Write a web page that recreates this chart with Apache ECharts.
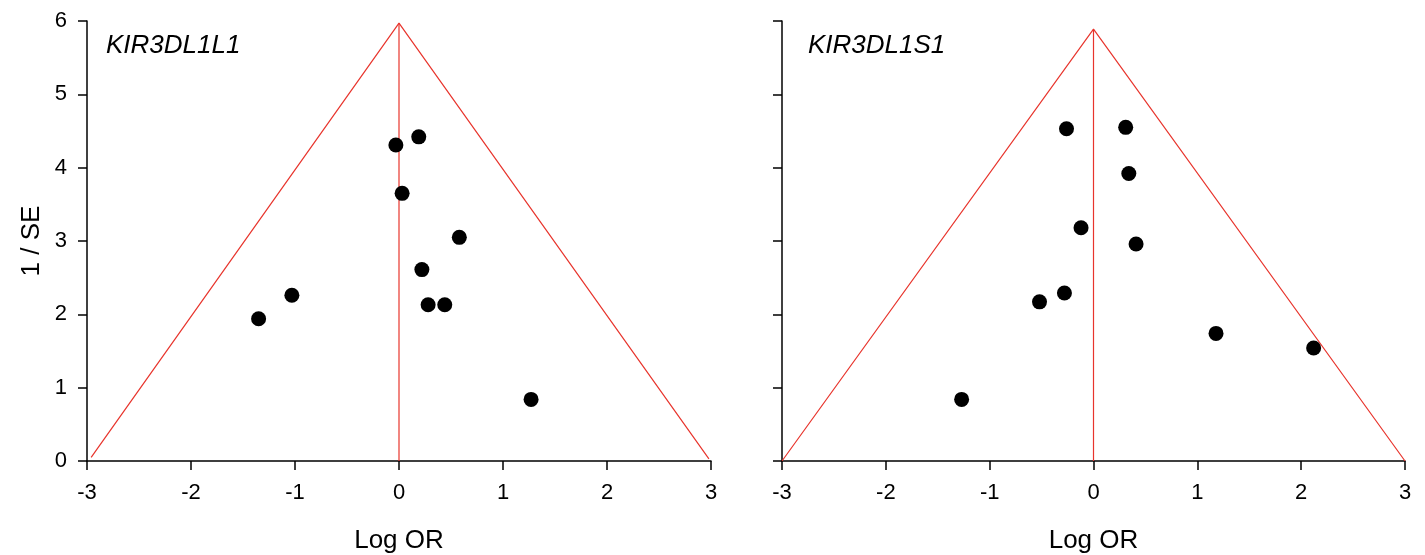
<!DOCTYPE html>
<html lang="en">
<head>
<meta charset="UTF-8">
<title>Funnel plots</title>
<script src="https://cdn.jsdelivr.net/npm/echarts@6/dist/echarts.min.js"></script>
<style>
  html, body { margin: 0; padding: 0; background: #fff; }
</style>
</head>
<body>
<div id="container" style="width:1425px;height:555px;"></div>
<script type="text/javascript">
// panel titles
var panelTitles = ['KIR3DL1L1', 'KIR3DL1S1'];

// left panel: log OR and 1/SE of each study
var leftLogOR = [-0.03, 0.19, 0.03, 0.58, 0.22, 0.28, 0.44, -1.03, -1.35, 1.27];
var leftInvSE = [4.31, 4.42, 3.65, 3.05, 2.61, 2.13, 2.13, 2.26, 1.94, 0.84];

// right panel
var rightLogOR = [-0.26, 0.31, 0.34, -0.12, 0.41, -0.28, -0.52, 1.18, 2.12, -1.27];
var rightInvSE = [4.53, 4.55, 3.92, 3.18, 2.96, 2.29, 2.17, 1.74, 1.54, 0.84];

// funnel outline (red) and centre line
var leftFunnel = [[-2.96, 0.05], [0, 5.97], [2.98, 0.03]];
var leftCentre = [[0, 0], [0, 5.97]];
var rightFunnel = [[-3, 0], [0, 5.89], [3, 0]];
var rightCentre = [[0, 0], [0, 5.89]];

// axis range
var xMin = -3, xMax = 3, xStep = 1;
var yMin = 0, yMax = 6, yStep = 1;

var font = 'Liberation Sans, Arial, sans-serif';
var red = '#e8342c';

function pairs(xs, ys) {
  var out = [];
  for (var i = 0; i < xs.length; i++) out.push([xs[i], ys[i]]);
  return out;
}

function xAxisFor(idx) {
  return {
    type: 'value', gridIndex: idx, min: xMin, max: xMax, interval: xStep,
    name: 'Log OR', nameLocation: 'middle', nameGap: 67,
    nameTextStyle: { fontFamily: font, fontSize: 26, color: '#000' },
    axisLine: { onZero: false, lineStyle: { color: '#000', width: 1.5 } },
    axisTick: { show: true, length: 9, lineStyle: { color: '#000', width: 1.5 } },
    axisLabel: { fontFamily: font, fontSize: 22, color: '#000', margin: 21 },
    splitLine: { show: false }
  };
}

function yAxisFor(idx, labels) {
  return {
    type: 'value', gridIndex: idx, min: yMin, max: yMax, interval: yStep,
    name: labels ? '1 / SE' : '', nameLocation: 'middle', nameGap: 42,
    nameTextStyle: { fontFamily: font, fontSize: 26, color: '#000' },
    axisLine: { show: true, onZero: false, lineStyle: { color: '#000', width: 1.5 } },
    axisTick: { show: true, length: 9, lineStyle: { color: '#000', width: 1.5 } },
    axisLabel: { show: labels, fontFamily: font, fontSize: 22, color: '#000', margin: 20 },
    splitLine: { show: false }
  };
}

function lineSeries(idx, data) {
  return {
    type: 'line', xAxisIndex: idx, yAxisIndex: idx, data: data,
    symbol: 'none', silent: true, clip: false, z: 2,
    lineStyle: { color: red, width: 1.2 }
  };
}

function dotSeries(idx, data) {
  return {
    type: 'scatter', xAxisIndex: idx, yAxisIndex: idx, data: data,
    symbol: 'circle', symbolSize: 15, z: 5,
    itemStyle: { color: '#000', opacity: 1 }
  };
}

var chart = echarts.init(document.getElementById('container'));
chart.setOption({
  animation: false,
  backgroundColor: '#fff',
  title: [
    { text: panelTitles[0], left: 101, top: 28,
      textStyle: { fontFamily: font, fontSize: 26, fontStyle: 'italic', fontWeight: 'normal', color: '#000' } },
    { text: panelTitles[1], left: 803, top: 28,
      textStyle: { fontFamily: font, fontSize: 26, fontStyle: 'italic', fontWeight: 'normal', color: '#000' } }
  ],
  grid: [
    { left: 87, top: 21, width: 624, height: 440, containLabel: false, outerBoundsMode: 'none' },
    { left: 782, top: 21, width: 623, height: 440, containLabel: false, outerBoundsMode: 'none' }
  ],
  xAxis: [xAxisFor(0), xAxisFor(1)],
  yAxis: [yAxisFor(0, true), yAxisFor(1, false)],
  series: [
    lineSeries(0, leftFunnel),
    lineSeries(0, leftCentre),
    dotSeries(0, pairs(leftLogOR, leftInvSE)),
    lineSeries(1, rightFunnel),
    lineSeries(1, rightCentre),
    dotSeries(1, pairs(rightLogOR, rightInvSE))
  ]
});
</script>
</body>
</html>
